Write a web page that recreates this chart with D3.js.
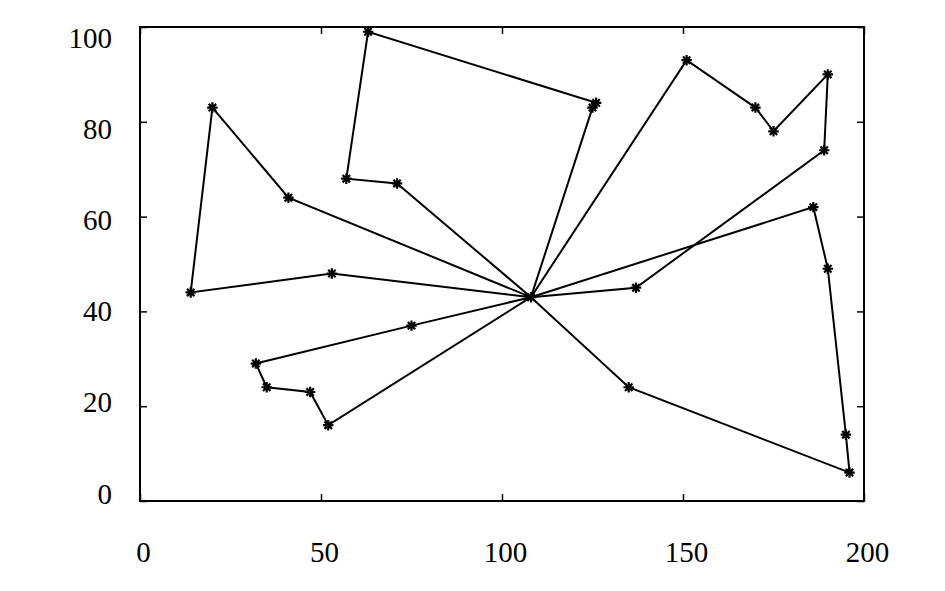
<!DOCTYPE html>
<html>
<head>
<meta charset="utf-8">
<script src="https://cdn.jsdelivr.net/npm/d3@7"></script>
<style>
  body { margin: 0; background: #fff; }
  text { font-family: "Liberation Serif", "Times New Roman", serif; }
</style>
</head>
<body>
<div id="chart"></div>
<script>
// depot and the customers visited by each route, in visiting order
const depot = [108, 43];
const route1 = [[41, 64], [20, 83], [14, 44], [53, 48]];
const route2 = [[71, 67], [57, 68], [63, 99], [126, 84], [125, 83]];
const route3 = [[151, 93], [170, 83], [175, 78], [190, 90], [189, 74], [137, 45]];
const route4 = [[186, 62], [190, 49], [195, 14], [196, 6], [135, 24]];
const route5 = [[75, 37], [32, 29], [35, 24], [47, 23], [52, 16]];

const xTicks = [0, 50, 100, 150, 200];
const yTicks = [0, 20, 40, 60, 80, 100];

const w = 945;
const h = 591;
const plotLeft = 140, plotRight = 864, plotTop = 27, plotBottom = 501;

const x = d3.scaleLinear().domain([0, 200]).range([plotLeft, plotRight]);
const y = d3.scaleLinear().domain([0, 100]).range([plotBottom, plotTop]);
// the y labels sit a bit off their ticks in the original
const yLabel = d3.scaleLinear().domain([0, 100]).range([503, 47]);

const svg = d3
  .select("#chart")
  .append("svg")
  .attr("width", w)
  .attr("height", h);

const routes = [route1, route2, route3, route4, route5].map((r) => [depot, ...r, depot]);

const line = d3
  .line()
  .x((d) => x(d[0]))
  .y((d) => y(d[1]));

svg
  .selectAll("path.route")
  .data(routes)
  .enter()
  .append("path")
  .attr("class", "route")
  .attr("d", line)
  .attr("fill", "none")
  .attr("stroke", "#000")
  .attr("stroke-width", 2);

// asterisk marker: plus and cross on top of each other
const star = {
  draw(ctx, size) {
    const r = Math.sqrt(size) / 2;
    const k = r * Math.SQRT1_2;
    ctx.moveTo(-r, 0); ctx.lineTo(r, 0);
    ctx.moveTo(0, -r); ctx.lineTo(0, r);
    ctx.moveTo(-k, -k); ctx.lineTo(k, k);
    ctx.moveTo(-k, k); ctx.lineTo(k, -k);
  },
};

const points = [depot, ...route1, ...route2, ...route3, ...route4, ...route5];

svg
  .selectAll("path.pt")
  .data(points)
  .enter()
  .append("path")
  .attr("class", "pt")
  .attr("d", d3.symbol(star, 110))
  .attr("transform", (d) => "translate(" + x(d[0]) + "," + y(d[1]) + ")")
  .attr("fill", "none")
  .attr("stroke", "#000")
  .attr("stroke-width", 2.2);

// axes: ticks inside, mirrored on top and right
const tick = 7;

svg
  .append("g")
  .attr("transform", "translate(0," + plotBottom + ")")
  .call(d3.axisBottom(x).tickValues(xTicks).tickSize(-tick))
  .call((g) => g.selectAll("text")
    .attr("dx", 3)
    .attr("y", 61)
    .attr("dy", 0)
    .attr("font-size", 29));

svg
  .append("g")
  .attr("transform", "translate(0," + plotTop + ")")
  .call(d3.axisTop(x).tickValues(xTicks).tickSize(-tick).tickFormat(""));

svg
  .append("g")
  .attr("transform", "translate(" + plotLeft + ",0)")
  .call(d3.axisLeft(y).tickValues(yTicks).tickSize(-tick))
  .call((g) => g.selectAll("text")
    .attr("x", -28)
    .attr("y", (d) => yLabel(d) - y(d))
    .attr("dy", 0)
    .attr("font-size", 29));

svg
  .append("g")
  .attr("transform", "translate(" + plotRight + ",0)")
  .call(d3.axisRight(y).tickValues(yTicks).tickSize(-tick).tickFormat(""));

svg.selectAll(".domain").remove();
svg.selectAll(".tick line").attr("stroke", "#000").attr("stroke-width", 1.5);
svg.selectAll(".tick text").attr("fill", "#000").attr("font-family", "Liberation Serif, serif");

svg
  .append("rect")
  .attr("x", plotLeft)
  .attr("y", plotTop)
  .attr("width", plotRight - plotLeft)
  .attr("height", plotBottom - plotTop)
  .attr("fill", "none")
  .attr("stroke", "#000")
  .attr("stroke-width", 2);
</script>
</body>
</html>
